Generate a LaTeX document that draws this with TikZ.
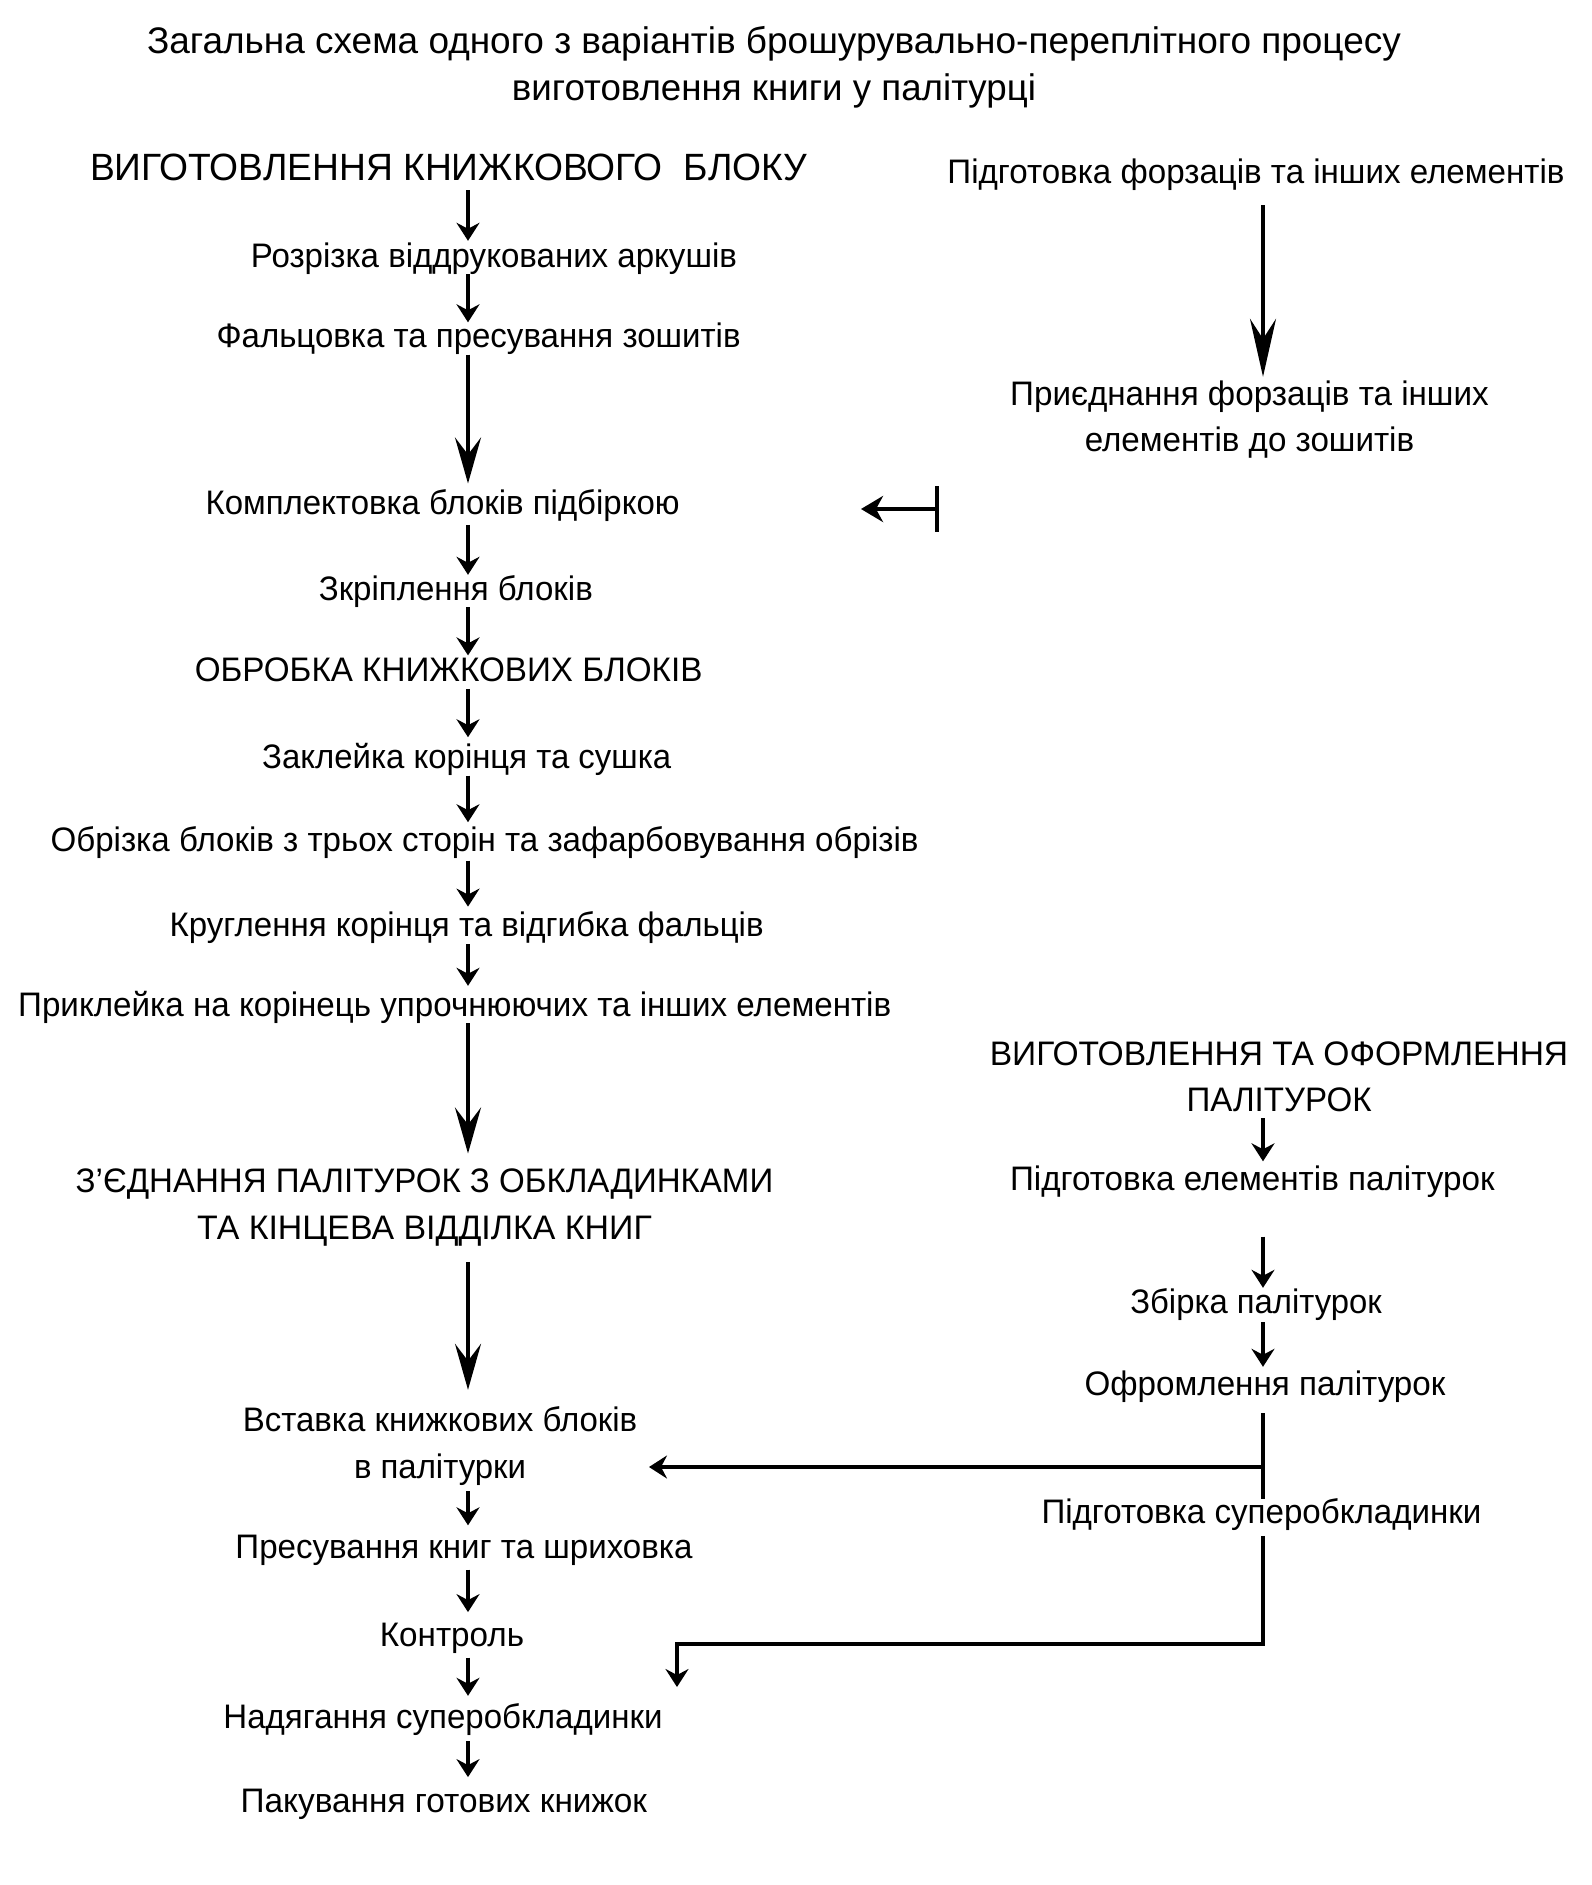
\documentclass[tikz,border=0pt]{standalone}
\usepackage{fontspec}
\setmainfont{Liberation Sans}
\usetikzlibrary{arrows.meta,calc}
\newcommand\fw[2]{\resizebox{#1pt}{\height}{#2}}
\begin{document}
\begin{tikzpicture}[x=1pt,y=-1pt,
  txt/.style={inner sep=0pt,anchor=base,align=center,text height=25pt,text depth=7pt,font=\fontsize{34}{46}\selectfont},
  two/.style={text height=71pt},
  twob/.style={text height=72pt,font=\fontsize{34}{47}\selectfont},
  big/.style={font=\fontsize{38}{46}\selectfont},
  sarr/.style={line width=4pt,-{Stealth[length=18pt,width=23pt,inset=6pt]},shorten >=6pt},
  barr/.style={line width=4pt,-{Stealth[length=46pt,width=26pt,inset=17pt]}},
  plain/.style={line width=4pt}]
\useasboundingbox (0,0) rectangle (1591,1885);
\coordinate (colL) at (468,0);
\coordinate (colR) at (1263,0);
% title
\node[txt,text height=72pt,font=\fontsize{37}{47}\selectfont] (title) at (774,100) {\fw{1254}{Загальна схема одного з варіантів брошурувально-переплітного процесу}\\\fw{524}{виготовлення книги у палітурці}};
% left column
\node[txt,big] (A) at (448.6,180) {\fw{717}{ВИГОТОВЛЕННЯ КНИЖКОВОГО~ БЛОКУ}};
\node[txt] (C) at (494,267) {\fw{486}{Розрізка віддрукованих аркушів}};
\node[txt] (D) at (478.6,347.5) {\fw{524}{Фальцовка та пресування зошитів}};
\node[txt] (E) at (442.6,514.7) {\fw{474}{Комплектовка блоків підбіркою}};
\node[txt] (G) at (455.8,600) {\fw{274}{Зкріплення блоків}};
\node[txt] (H) at (448.6,681.6) {\fw{507.5}{ОБРОБКА КНИЖКОВИХ БЛОКІВ}};
\node[txt] (I) at (466.7,768.4) {\fw{409}{Заклейка корінця та сушка}};
\node[txt] (J) at (484.6,851.4) {\fw{868}{Обрізка блоків з трьох сторін та зафарбовування обрізів}};
\node[txt] (K) at (466.6,936.8) {\fw{594}{Круглення корінця та відгибка фальців}};
\node[txt] (L) at (454.7,1016) {\fw{873}{Приклейка на корінець упрочнюючих та інших елементів}};
\node[txt,twob] (M) at (424.5,1239.7) {\fw{697.5}{З’ЄДНАННЯ ПАЛІТУРОК З ОБКЛАДИНКАМИ}\\\fw{454.6}{ТА КІНЦЕВА ВІДДІЛКА КНИГ}};
\node[txt,twob] (N) at (440,1478) {\fw{394.5}{Вставка книжкових блоків}\\\fw{172}{в палітурки}};
\node[txt] (O) at (464,1558.5) {\fw{457}{Пресування книг та шриховка}};
\node[txt] (P) at (452,1646.3) {\fw{144.3}{Контроль}};
\node[txt] (Q) at (443,1728) {\fw{439}{Надягання суперобкладинки}};
\node[txt] (R) at (443.8,1812.3) {\fw{406.5}{Пакування готових книжок}};
% right column
\node[txt] (B) at (1256,183) {\fw{617}{Підготовка форзаців та інших елементів}};
\node[txt,two] (F) at (1249.5,451) {\fw{478.6}{Приєднання форзаців та інших}\\\fw{329.5}{елементів до зошитів}};
\node[txt,two] (S) at (1279,1111) {\fw{578.4}{ВИГОТОВЛЕННЯ ТА ОФОРМЛЕННЯ}\\\fw{185}{ПАЛІТУРОК}};
\node[txt] (T) at (1252.4,1190.5) {\fw{484.6}{Підготовка елементів палітурок}};
\node[txt] (U) at (1256,1313) {\fw{251.3}{Збірка палітурок}};
\node[txt] (V) at (1265,1395) {\fw{360.8}{Офромлення палітурок}};
\node[txt] (W) at (1261.5,1523.7) {\fw{440}{Підготовка суперобкладинки}};
% left column arrows
\draw[sarr,shorten <=3pt,shorten >=1pt] (A.south -| colL) -- (C.north -| colL);
\draw[sarr,shorten >=0pt] (C.south -| colL) -- (D.north -| colL);
\draw[barr,shorten >=6pt] (D.south -| colL) -- (E.north -| colL);
\draw[sarr,shorten <=3pt,shorten >=0pt] (E.south -| colL) -- (G.north -| colL);
\draw[sarr,shorten >=1pt] (G.south -| colL) -- (H.north -| colL);
\draw[sarr] (H.south -| colL) -- (I.north -| colL);
\draw[sarr,shorten <=0pt,shorten >=4pt] (I.south -| colL) -- (J.north -| colL);
\draw[sarr,shorten <=2pt,shorten >=5pt] (J.south -| colL) -- (K.north -| colL);
\draw[sarr,shorten >=5pt] (K.south -| colL) -- (L.north -| colL);
\draw[barr,shorten >=14pt] (L.south -| colL) -- (M.north -| colL);
\draw[barr,shorten <=15pt,shorten >=16pt] (M.south -| colL) -- (N.north -| colL);
\draw[sarr,shorten <=6pt,shorten >=8pt] (N.south -| colL) -- (O.north -| colL);
\draw[sarr,shorten <=4pt,shorten >=9pt] (O.south -| colL) -- (P.north -| colL);
\draw[sarr,shorten <=4pt,shorten >=7pt] (P.south -| colL) -- (Q.north -| colL);
\draw[sarr,shorten <=6pt,shorten >=10pt] (Q.south -| colL) -- (R.north -| colL);
% bar arrow toward E
\coordinate (ebar) at (937,509);
\coordinate (etip) at (861,509);
\draw[plain] ($(ebar)+(0,-23)$) -- ($(ebar)+(0,23)$);
\draw[line width=4pt,-{Stealth[length=22pt,width=26pt,inset=7pt]}] (ebar) -- (etip);
% right column arrows
\draw[line width=4pt,-{Stealth[length=58pt,width=26pt,inset=20pt]},shorten <=15pt,shorten >=3pt] (B.south -| colR) -- (F.north -| colR);
\draw[sarr,shorten <=0pt,shorten >=4pt] (S.south -| colR) -- (T.north -| colR);
\draw[sarr,shorten <=39pt,shorten >=0pt] (T.south -| colR) -- (U.north -| colR);
\draw[sarr,shorten <=2pt,shorten >=3pt] (U.south -| colR) -- (V.north -| colR);
\draw[plain,shorten <=11pt] (V.south -| colR) -- (W.north -| colR);
\coordinate (vjoin) at (1263,1467);
\coordinate (ntip) at (649,1467);
\draw[sarr,shorten >=0pt] (vjoin) -- (ntip);
\coordinate (qturn) at (677,1644);
\coordinate (qtip) at (677,1687);
\draw[sarr,shorten >=0pt,shorten <=5pt] (W.south -| colR) |- (qturn) -- (qtip);
\end{tikzpicture}
\end{document}
